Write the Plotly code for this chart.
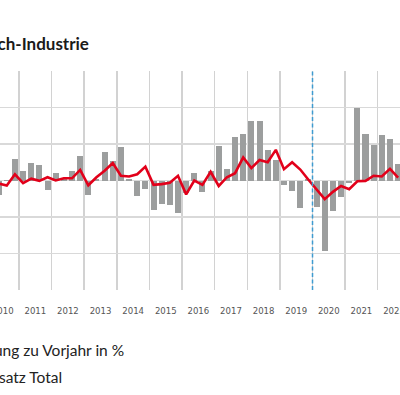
import plotly.graph_objects as go

# ---- data ----
years = list(range(2010, 2023))
quarter_labels = (
    ["2010 Q2", "2010 Q3", "2010 Q4"]
    + [f"{y} Q{q}" for y in range(2011, 2022) for q in (1, 2, 3, 4)]
    + ["2022 Q1", "2022 Q2", "2022 Q3"]
)
bar_values = [
    -4.0, 0.2, 5.8,
    2.7, 4.7, 4.2, -2.5,
    2.1, 0.4, 2.7, 6.6,
    -4.0, 0.3, 7.9, 5.3,
    9.1, 0.4, -4.2, -2.4,
    -8.1, -6.3, -6.7, -8.8,
    -3.5, 2.0, -3.1, 2.6,
    9.4, 3.2, 11.9, 12.7,
    16.2, 16.2, 8.3, 5.5,
    -1.3, -2.9, -7.4, 0.3,
    -7.3, -19.4, -8.3, -4.6,
    -0.6, 19.9, 12.8, 9.6,
    12.5, 11.4, 4.6,
]
line_values = [
    -0.8, -1.4, 1.7,
    -0.7, 0.5, -0.1, 0.9,
    0.0, 0.6, 0.6, 2.9,
    -1.3, 0.9, 2.7, 4.8,
    1.3, 1.1, 1.7, 3.8,
    -1.2, -1.0, -0.6, 1.3,
    -3.8, 0.0, -1.2, 2.4,
    -1.5, 0.9, 2.0, 6.3,
    3.4, 5.6, 5.0, 8.4,
    3.1, 5.0, 3.0, 0.2,
    -2.6, -5.1, -3.1, -1.5,
    -2.4, -0.2, -0.1, 1.3,
    1.1, 3.2, 0.8,
]
marker_year = 2020
title_text = "Umsatz Tech-Industrie"
legend_bar = "Veränderung zu Vorjahr in %"
legend_line = "Umsatz Total"


def qpos(label):
    y, q = label.split(" Q")
    return int(y) + (int(q) - 0.5) / 4


x_pos = [qpos(l) for l in quarter_labels]

fig = go.Figure()
fig.add_trace(go.Bar(
    x=x_pos, y=bar_values, width=0.185,
    marker=dict(color="#9c9e9e", line=dict(width=0)),
    name=legend_bar, showlegend=False, hoverinfo="skip",
))
fig.add_trace(go.Scatter(
    x=x_pos, y=line_values, mode="lines",
    line=dict(color="#e2001a", width=2.6),
    name=legend_line, showlegend=False, hoverinfo="skip",
))

fig.add_shape(type="line", xref="x", yref="paper",
              x0=marker_year, x1=marker_year, y0=0, y1=1,
              line=dict(color="#3f9bd0", width=1.5, dash="4px,2.5px"))

fig.add_annotation(text=f"<b>{title_text}</b>", xref="paper", yref="paper",
                   x=0.228, y=1.124, xanchor="right", yanchor="middle",
                   showarrow=False,
                   font=dict(family="Lato", size=17, color="#1a1a1a"))
fig.add_annotation(text=legend_bar, xref="paper", yref="paper",
                   x=0.316, y=-0.274, xanchor="right", yanchor="middle",
                   showarrow=False,
                   font=dict(family="Lato", size=15.5, color="#222"))
fig.add_annotation(text=legend_line, xref="paper", yref="paper",
                   x=0.160, y=-0.398, xanchor="right", yanchor="middle",
                   showarrow=False,
                   font=dict(family="Lato", size=15.5, color="#222"))

fig.update_layout(
    width=400, height=395,
    margin=dict(l=0, r=0, t=71, b=105, autoexpand=False),
    paper_bgcolor="white", plot_bgcolor="white",
    bargap=0,
    xaxis=dict(
        range=[2010.417, 2022.683],
        tickmode="array",
        tickvals=[y + 0.5 for y in years],
        ticktext=[str(y) for y in years],
        showgrid=False, zeroline=False, showline=False, ticks="",
        ticklabelstandoff=13, automargin=False, ticklabeloverflow="allow",
        tickfont=dict(family="Liberation Sans Narrow, DejaVu Sans Condensed", size=9.5, color="#555"),
        minor=dict(tickmode="linear", tick0=2010, dtick=1, showgrid=True,
                   gridcolor="#d2d2d2", gridwidth=1.5, ticks=""),
    ),
    yaxis=dict(
        range=[-30, 30], tickmode="linear", tick0=0, dtick=10,
        showticklabels=False, showgrid=True, gridcolor="#d9d9d9", gridwidth=1.2,
        zeroline=False, showline=False, ticks="", automargin=False,
    ),
)

fig.write_html(
    "out.html",
    config={"displayModeBar": False, "staticPlot": True},
    post_script="document.body.style.margin='0';document.body.style.overflow='hidden';",
)
